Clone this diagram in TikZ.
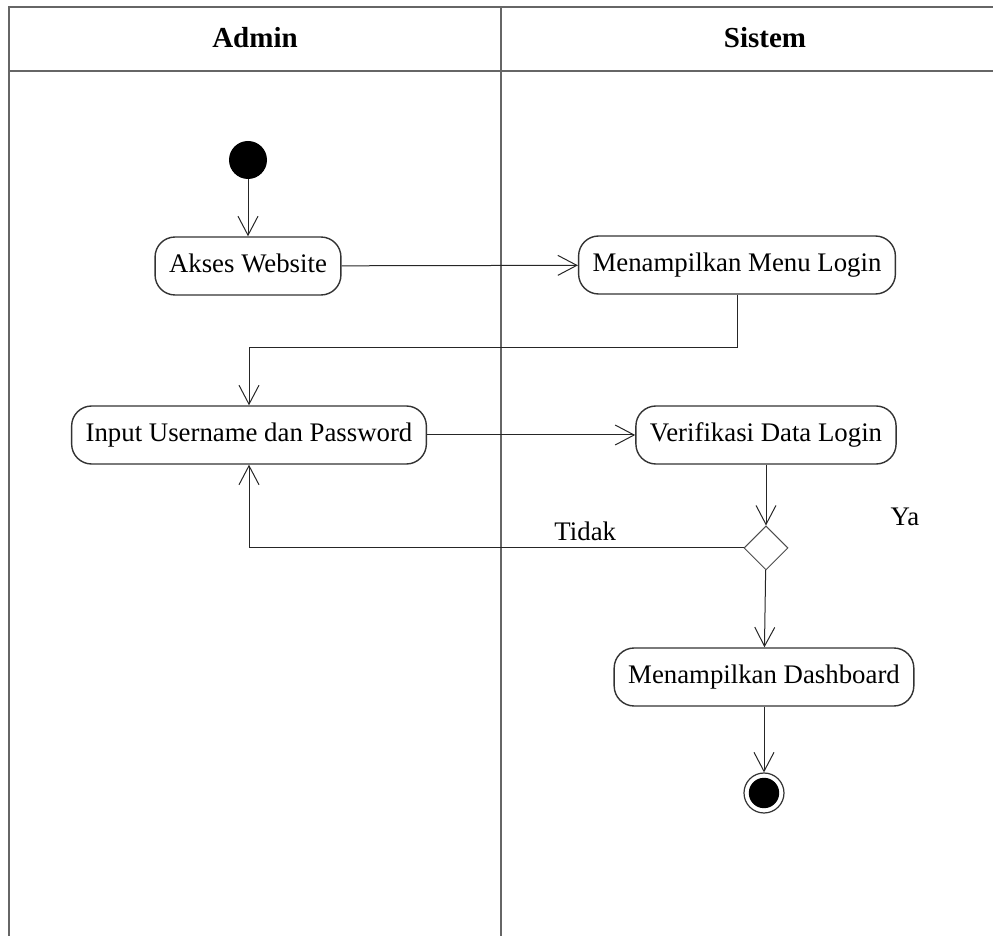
\documentclass[tikz,border=0pt]{standalone}
\usepackage{fontspec}
\setmainfont{Liberation Serif}
\usetikzlibrary{arrows.meta,shapes.geometric}

\tikzset{
  lajur/.style={draw=black!60, line width=1pt},
  judul/.style={font=\fontsize{14.5}{17}\selectfont\bfseries},
  aktivitas/.style={draw=black!80, line width=0.7pt, rounded corners=10pt,
    minimum height=29pt, inner xsep=7pt, text height=9.5pt, text depth=3pt,
    font=\fontsize{13.4}{16}\selectfont},
  keputusan/.style={diamond, draw=black!70, line width=0.5pt, inner sep=0pt,
    minimum width=22pt, minimum height=22pt},
  mulai/.style={circle, fill=black, inner sep=0pt, minimum size=19pt},
  selesai/.style={circle, draw=black!80, line width=0.6pt, inner sep=0pt,
    minimum size=20pt, path picture={\fill (path picture bounding box.center) circle (7.6pt);}},
  panah/.style={draw=black!85, line width=0.5pt, -{Straight Barb[length=9.5pt,width=10pt]}},
  teks/.style={font=\fontsize{13.4}{16}\selectfont}
}

\begin{document}
\begin{tikzpicture}[x=0.5pt,y=-0.5pt]
    \useasboundingbox (0,0) rectangle (993,936);
    % swimlanes
    \draw[lajur] (993,7) -- (9,7) -- (9,936);
    \draw[lajur] (9,71) -- (993,71);
    \draw[lajur] (501,7) -- (501,936);
    \node[judul] (admin) at (255,38) {Admin};
    \node[judul] (sistem) at (765,38) {Sistem};

    % activities
    \node[mulai] (awal) at (248,160) {};
    \node[aktivitas] (akses) at (248,266) {Akses Website};
    \node[aktivitas] (menu) at (737,265) {Menampilkan Menu Login};
    \node[aktivitas] (input) at (249,435) {Input Username dan Password};
    \node[aktivitas] (verif) at (766,435) {Verifikasi Data Login};
    \node[keputusan] (cek) at (766,548) {};
    \node[teks] (ya) at (905,517) {Ya};
    \node[aktivitas] (dash) at (764,677) {Menampilkan Dashboard};
    \node[selesai] (akhir) at (764,793) {};

    % flows
    \draw[panah] (awal) -- (akses);
    \draw[panah] (akses) -- (menu);
    \draw[panah] (menu.south) -- ++(0,53) -| (input.north);
    \draw[panah] (input) -- (verif);
    \draw[panah] (verif) -- (cek);
    \draw[panah] (cek.west) -| node[teks, above, pos=0.16] {Tidak} (input.south);
    \draw[panah] (cek) -- (dash);
    \draw[panah] (dash) -- (akhir);
\end{tikzpicture}
\end{document}
